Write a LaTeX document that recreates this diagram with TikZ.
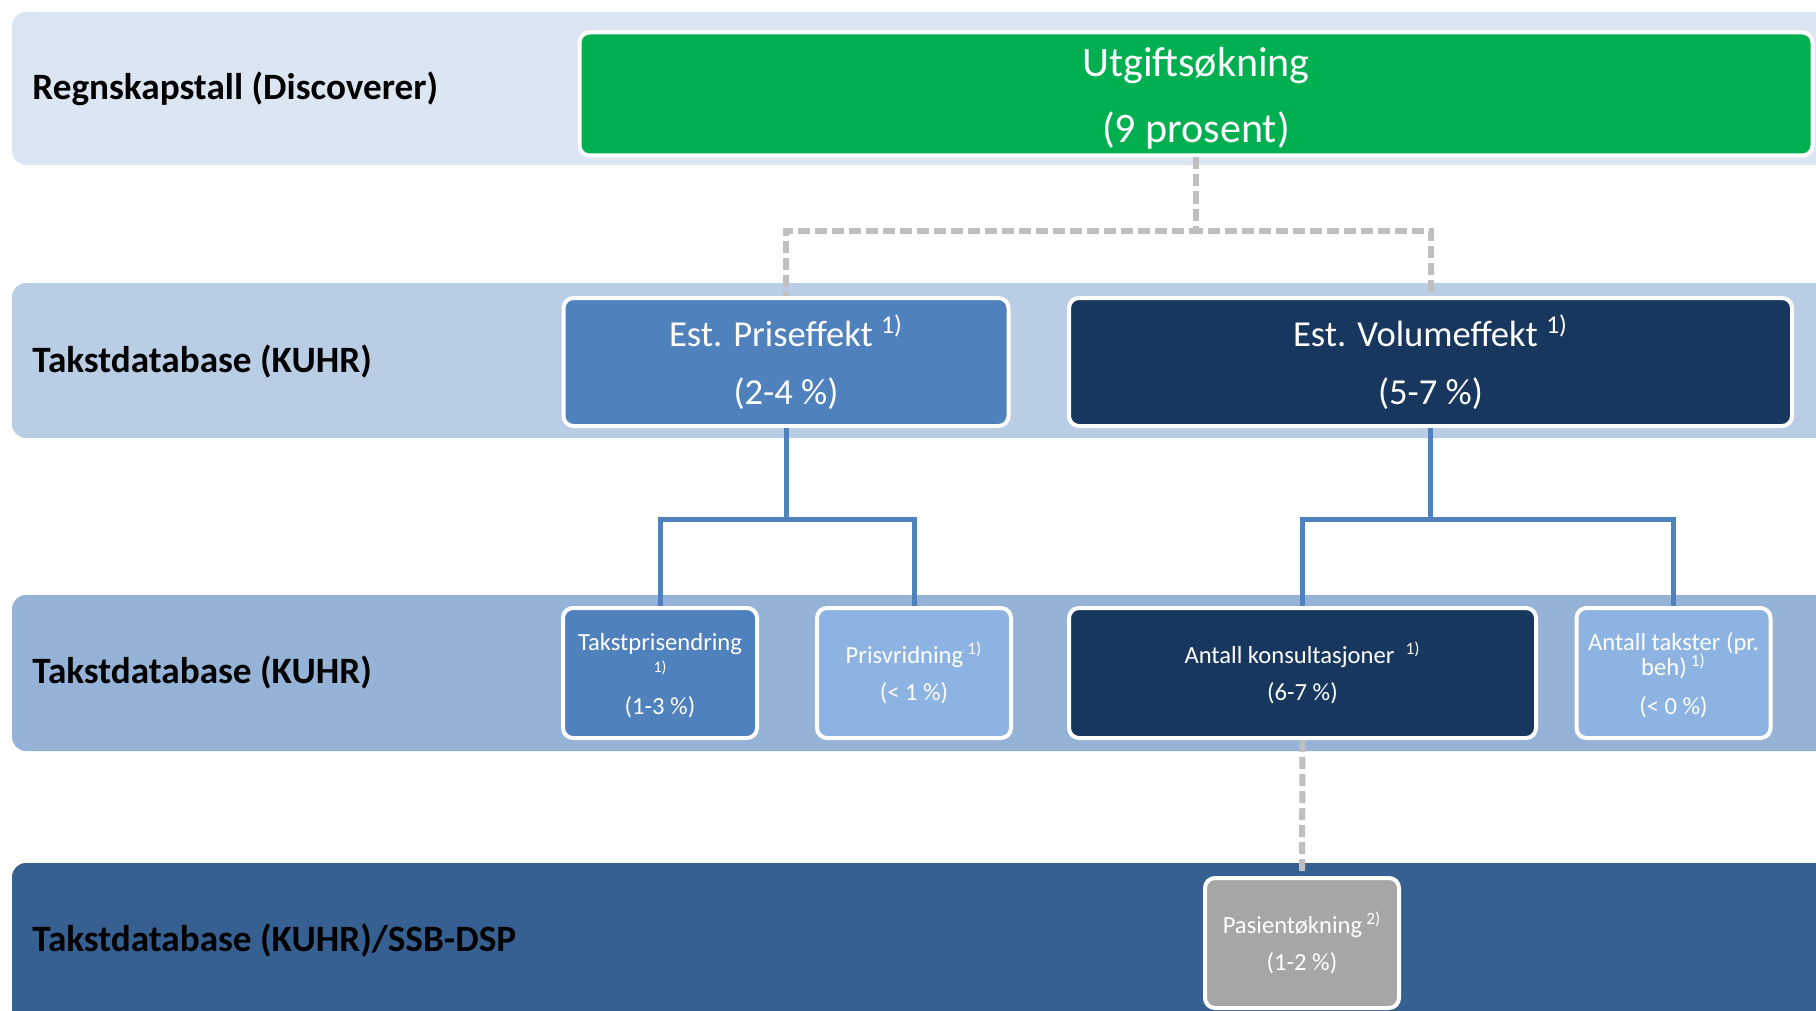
\documentclass[tikz,border=0pt]{standalone}
\usepackage{fontspec}
\setmainfont{Carlito}
\definecolor{bandA}{HTML}{DCE6F2}
\definecolor{bandB}{HTML}{B9CDE5}
\definecolor{bandC}{HTML}{95B3D7}
\definecolor{bandD}{HTML}{366092}
\definecolor{boxgreen}{HTML}{00B050}
\definecolor{boxblue}{HTML}{4F81BD}
\definecolor{boxnavy}{HTML}{17375E}
\definecolor{boxlight}{HTML}{8DB3E2}
\definecolor{boxgray}{HTML}{A6A6A6}
\definecolor{dashgray}{HTML}{BFBFBF}
\begin{document}
\begin{tikzpicture}[x=0.5pt,y=-0.5pt,
  bandshape/.style={rounded corners=7pt},
  box/.style={draw=white, line width=2pt, rounded corners=5pt, text=white, align=center, inner sep=0pt},
  bigtext/.style={font=\fontsize{21}{33}\selectfont},
  midtext/.style={font=\fontsize{18.3}{29}\selectfont},
  smalltext/.style={font=\fontsize{12.3}{18.5}\selectfont},
  lbl/.style={anchor=west, inner sep=0pt, font=\fontsize{18.6}{22}\selectfont\bfseries, text=black},
  gdash/.style={draw=dashgray, line width=3pt, dash pattern=on 6pt off 2.5pt},
  bconn/.style={draw=boxblue, line width=2.5pt}]
\useasboundingbox (0,0) rectangle (1816,1011);
% bands
\fill[bandA, bandshape] (12,12) rectangle (1850,165);
\fill[bandB, bandshape] (12,283) rectangle (1850,438);
\fill[bandC, bandshape] (12,595) rectangle (1850,751);
\fill[bandD, bandshape] (12,863) rectangle (1850,1040);
% band labels
\node[lbl] (l1) at (32,89) {Regnskapstall (Discoverer)};
\node[lbl] (l2) at (32,362) {Takstdatabase (KUHR)};
\node[lbl] (l3) at (32,673) {Takstdatabase (KUHR)};
\node[lbl] (l4) at (32,941) {Takstdatabase (KUHR)/SSB-DSP};
% boxes
\node[box, bigtext, fill=boxgreen, minimum width=616.5pt, minimum height=61.5pt] (green) at (1196,94) {\rule{0pt}{19pt}Utgiftsøkning\\(9 prosent)};
\node[box, midtext, fill=boxblue, minimum width=222.5pt, minimum height=64pt] (pris) at (786,362) {Est. Priseffekt \textsuperscript{1)}\\(2-4 \%)};
\node[box, midtext, fill=boxnavy, minimum width=361.5pt, minimum height=64pt] (vol) at (1430.5,362) {Est. Volumeffekt \textsuperscript{1)}\\(5-7 \%)};
\node[box, smalltext, fill=boxblue, minimum width=97pt, minimum height=65pt] (tpe) at (660,673) {\rule{0pt}{11pt}Takstprisendring\\[-7.5pt]{\fontsize{8}{18.5}\selectfont 1)}\\[2.5pt](1-3 \%)};
\node[box, smalltext, fill=boxlight, minimum width=97pt, minimum height=65pt] (prv) at (914,673) {Prisvridning\,\textsuperscript{1)}\\(< 1 \%)};
\node[box, smalltext, fill=boxnavy, minimum width=233.5pt, minimum height=65pt] (ak) at (1302.5,673) {Antall konsultasjoner \ \textsuperscript{1)}\\(6-7 \%)};
\node[box, smalltext, fill=boxlight, minimum width=97pt, minimum height=65pt] (at) at (1673.5,673) {\rule{0pt}{11pt}Antall takster (pr.\\[-5.8pt]beh)\,\textsuperscript{1)}\\[1pt](< 0 \%)};
\node[box, smalltext, fill=boxgray, minimum width=97pt, minimum height=65pt] (pas) at (1302,943) {Pasientøkning\,\textsuperscript{2)}\\(1-2 \%)};
% connectors
\draw[gdash] (green.south) -- ++(0,73) -| (pris.north);
\draw[gdash] (green.south) -- ++(0,73) -| (vol.north);
\draw[bconn] (pris.south) -- ++(0,91) -| (tpe.north);
\draw[bconn] (pris.south) -- ++(0,91) -| (prv.north);
\draw[bconn] (vol.south) -- ++(0,91) -| (ak.north);
\draw[bconn] (vol.south) -- ++(0,91) -| (at.north);
\draw[gdash] (ak.south) -- (pas.north);
\end{tikzpicture}
\end{document}
